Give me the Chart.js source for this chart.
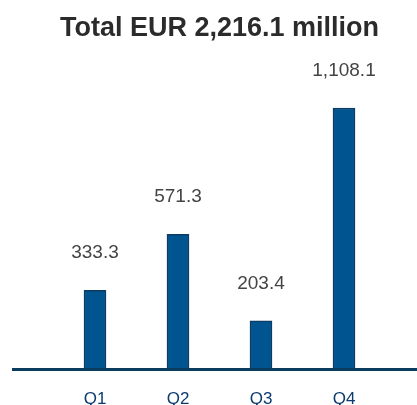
<!DOCTYPE html>
<html>
<head>
<meta charset="utf-8">
<script src="https://cdn.jsdelivr.net/npm/chart.js@4"></script>
<style>
  html, body { margin: 0; padding: 0; background: #fff; }
  #wrap { width: 417px; height: 405px; }
</style>
</head>
<body>
<div id="wrap"><canvas id="quarterChart" width="417" height="405"></canvas></div>
<script>
// quarterly values, EUR million
const quarters = ['Q1', 'Q2', 'Q3', 'Q4']
const quarterValues = [333.3, 571.3, 203.4, 1108.1]
const chartTitle = 'Total EUR 2,216.1 million'

// value labels above the bars
const valueLabels = {
  id: 'valueLabels',
  afterDatasetsDraw(chart) {
    const ctx = chart.ctx
    const meta = chart.getDatasetMeta(0)
    ctx.save()
    ctx.font = '19px "Liberation Sans", Arial, sans-serif'
    ctx.fillStyle = '#444444'
    ctx.textAlign = 'center'
    ctx.textBaseline = 'bottom'
    meta.data.forEach(function (bar, i) {
      const txt = quarterValues[i].toLocaleString('en-US', { minimumFractionDigits: 1 })
      ctx.fillText(txt, bar.x, bar.y - 28)
    })
    ctx.restore()
  }
}

// long baseline under the bars, wider than the plot area
const baseLine = {
  id: 'baseLine',
  afterDatasetsDraw(chart) {
    const ctx = chart.ctx
    const y = chart.scales.y.getPixelForValue(0) + 1
    ctx.save()
    ctx.strokeStyle = '#0c3b60'
    ctx.lineWidth = 3
    ctx.beginPath()
    ctx.moveTo(12, y)
    ctx.lineTo(chart.width, y)
    ctx.stroke()
    ctx.restore()
  }
}

new Chart('quarterChart', {
  type: 'bar',
  data: {
    labels: quarters,
    datasets: [{
      data: quarterValues,
      backgroundColor: '#00548f',
      borderColor: '#0b3c64',
      borderWidth: 1.5,
      barThickness: 22
    }]
  },
  options: {
    responsive: false,
    animation: false,
    layout: { padding: { left: 53.5, right: 31.5, top: 0, bottom: -18 } },
    plugins: {
      legend: { display: false },
      tooltip: { enabled: false },
      title: {
        display: true,
        text: chartTitle,
        color: '#2b2b2b',
        font: { family: '"Liberation Sans", Arial, sans-serif', size: 27, weight: 'bold' },
        padding: { top: 12, bottom: 42 }
      }
    },
    scales: {
      x: {
        grid: { display: false },
        border: { display: false },
        ticks: {
          color: '#0c3b70',
          padding: 13,
          font: { family: '"Liberation Sans", Arial, sans-serif', size: 17 }
        }
      },
      y: {
        display: false,
        min: 0,
        max: 1200
      }
    }
  },
  plugins: [valueLabels, baseLine]
})
</script>
</body>
</html>
